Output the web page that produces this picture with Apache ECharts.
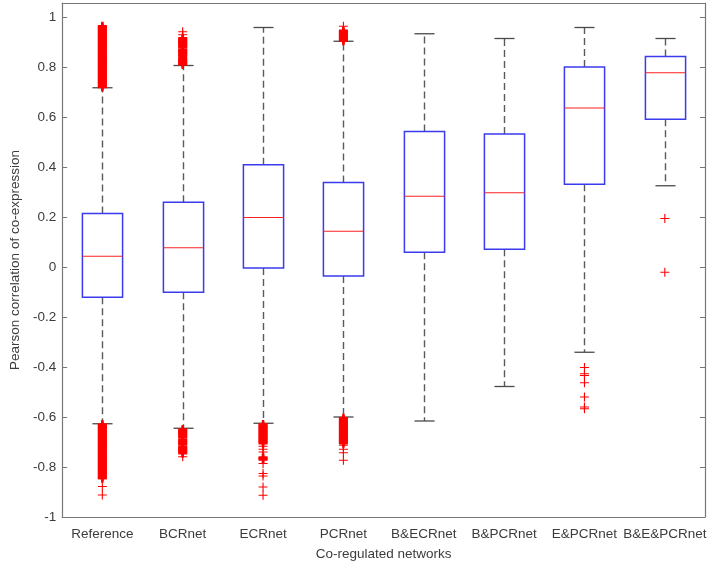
<!DOCTYPE html>
<html>
<head>
<meta charset="utf-8">
<script src="https://cdn.jsdelivr.net/npm/echarts@6/dist/echarts.min.js"></script>
<style>
html,body{margin:0;padding:0;background:#fff;}
#chart{width:709px;height:566px;}
</style>
</head>
<body>
<div id="chart"></div>
<script>
const categories = ['Reference','BCRnet','ECRnet','PCRnet','B&ECRnet','B&PCRnet','E&PCRnet','B&E&PCRnet'];
const lowerWhisker = [-0.627, -0.645, -0.625, -0.600, -0.616, -0.478, -0.341, 0.325];
const q1           = [-0.121, -0.101, -0.004, -0.036, 0.059, 0.071, 0.331, 0.591];
const median       = [0.043, 0.077, 0.198, 0.143, 0.283, 0.297, 0.636, 0.777];
const q3           = [0.214, 0.259, 0.409, 0.338, 0.542, 0.532, 0.800, 0.842];
const upperWhisker = [0.717, 0.806, 0.958, 0.903, 0.933, 0.914, 0.958, 0.914];
const yTicks = [-1, -0.8, -0.6, -0.4, -0.2, 0, 0.2, 0.4, 0.6, 0.8, 1];

const outliersReference = [
  0.72,0.725,0.73,0.735,0.74,0.745,0.75,0.755,0.76,0.765,0.77,0.775,0.78,0.785,0.79,0.795,
  0.80,0.805,0.81,0.815,0.82,0.825,0.83,0.835,0.84,0.845,0.85,0.855,0.86,0.865,0.87,0.875,
  0.88,0.885,0.89,0.895,0.90,0.905,0.91,0.915,0.92,0.925,0.93,0.935,0.94,0.945,0.95,0.955,0.96,0.963,
  -0.63,-0.635,-0.64,-0.645,-0.65,-0.655,-0.66,-0.665,-0.67,-0.675,-0.68,-0.685,-0.69,-0.695,
  -0.70,-0.705,-0.71,-0.715,-0.72,-0.725,-0.73,-0.735,-0.74,-0.745,-0.75,-0.755,-0.76,-0.765,
  -0.77,-0.775,-0.78,-0.785,-0.79,-0.795,-0.80,-0.805,-0.81,-0.815,-0.82,-0.825,-0.83,-0.835,-0.84,-0.845,
  -0.878,-0.912
];
const outliersBCRnet = [
  0.81,0.815,0.82,0.825,0.83,0.835,0.845,0.85,0.855,0.86,0.865,0.87,0.88,0.885,0.89,0.895,
  0.90,0.905,0.91,0.915,0.929,0.941,
  -0.65,-0.655,-0.66,-0.665,-0.67,-0.675,-0.68,-0.69,-0.695,-0.70,-0.705,-0.71,-0.72,-0.725,
  -0.73,-0.735,-0.74,-0.745,-0.759
];
const outliersECRnet = [
  -0.63,-0.635,-0.64,-0.645,-0.65,-0.655,-0.66,-0.665,-0.67,-0.675,-0.68,-0.685,-0.69,-0.695,-0.70,-0.705,
  -0.717,-0.729,-0.74,-0.762,-0.766,-0.77,-0.786,-0.826,-0.836,-0.88,-0.913
];
const outliersPCRnet = [
  0.905,0.91,0.915,0.92,0.925,0.93,0.935,0.94,0.945,0.963,
  -0.605,-0.61,-0.615,-0.62,-0.625,-0.63,-0.635,-0.64,-0.645,-0.65,-0.655,-0.66,-0.665,-0.67,
  -0.675,-0.68,-0.685,-0.69,-0.695,-0.70,-0.705,-0.713,-0.729,-0.743,-0.773
];
const outliersBECRnet = [];
const outliersBPCRnet = [];
const outliersEPCRnet = [-0.402,-0.427,-0.434,-0.463,-0.52,-0.56,-0.567];
const outliersBEPCRnet = [0.194,-0.021];

const allOutliers = [outliersReference, outliersBCRnet, outliersECRnet, outliersPCRnet,
  outliersBECRnet, outliersBPCRnet, outliersEPCRnet, outliersBEPCRnet];

const boxData = categories.map((c, i) => [i, lowerWhisker[i], q1[i], median[i], q3[i], upperWhisker[i]]);
// outliers: markers that sit inside a dense run are drawn with a heavier stroke so the run reads as solid
const outlierData = [];
allOutliers.forEach((arr, i) => arr.forEach((v, k) => {
  const prev = k > 0 ? Math.abs(arr[k - 1] - v) : 1;
  const next = k < arr.length - 1 ? Math.abs(arr[k + 1] - v) : 1;
  const dense = Math.min(prev, next) <= 0.0055;
  outlierData.push({value: [i, v], itemStyle: {borderWidth: dense ? 2.4 : 1.1}});
}));

const axisColor = '#777777';
const textColor = '#3c3c3c';
const fontFamily = 'Liberation Sans, Arial, sans-serif';

function renderBox(params, api) {
  const i = api.value(0);
  const lo = api.coord([i, api.value(1)]);
  const b1 = api.coord([i, api.value(2)]);
  const md = api.coord([i, api.value(3)]);
  const b3 = api.coord([i, api.value(4)]);
  const hi = api.coord([i, api.value(5)]);
  const bw = api.size([1, 0])[0];
  const half = bw * 0.25;
  const capHalf = bw * 0.125;
  const x = Math.round(lo[0]) + 0.5;
  const whiskerStyle = {stroke: '#5a5a5a', lineWidth: 1.4, lineDash: [7, 4], fill: null};
  const capStyle = {stroke: '#4a4a4a', lineWidth: 1.3, fill: null};
  return {
    type: 'group',
    children: [
      {type: 'line', shape: {x1: x, y1: b3[1], x2: x, y2: hi[1]}, style: whiskerStyle},
      {type: 'line', shape: {x1: x, y1: b1[1], x2: x, y2: lo[1]}, style: whiskerStyle},
      {type: 'line', shape: {x1: x - capHalf, y1: hi[1], x2: x + capHalf, y2: hi[1]}, style: capStyle},
      {type: 'line', shape: {x1: x - capHalf, y1: lo[1], x2: x + capHalf, y2: lo[1]}, style: capStyle},
      {type: 'rect', shape: {x: x - half, y: b3[1], width: half * 2, height: b1[1] - b3[1]},
        style: {stroke: '#3a3aee', lineWidth: 1.5, fill: '#ffffff'}},
      {type: 'line', shape: {x1: x - half, y1: md[1], x2: x + half, y2: md[1]},
        style: {stroke: '#ff2020', lineWidth: 1.1}}
    ]
  };
}

const chart = echarts.init(document.getElementById('chart'), null, {renderer: 'canvas'});
chart.setOption({
  animation: false,
  backgroundColor: '#ffffff',
  grid: {left: 49.5, right: 4, top: 3, bottom: 47.3, containLabel: false},
  xAxis: [
    {
      type: 'category', data: categories, position: 'bottom', boundaryGap: true,
      axisLine: {onZero: false, lineStyle: {color: axisColor, width: 1.2}},
      axisTick: {inside: true, length: 5, alignWithLabel: true, lineStyle: {color: axisColor}},
      axisLabel: {color: textColor, fontSize: 13.5, fontFamily: fontFamily, margin: 10, interval: 0},
      splitLine: {show: false},
      name: 'Co-regulated networks', nameLocation: 'middle', nameGap: 30,
      nameTextStyle: {color: textColor, fontSize: 13.5, fontFamily: fontFamily}
    },
    {
      type: 'category', data: categories, position: 'top', boundaryGap: true,
      axisLine: {onZero: false, lineStyle: {color: axisColor, width: 1.2}},
      axisTick: {inside: true, length: 5, alignWithLabel: true, lineStyle: {color: axisColor}},
      axisLabel: {show: false}, splitLine: {show: false}
    }
  ],
  yAxis: [
    {
      type: 'value', min: -1, max: 1.056, interval: 0.2, position: 'left',
      axisLine: {show: true, onZero: false, lineStyle: {color: axisColor, width: 1.2}},
      axisTick: {show: true, inside: true, length: 5, lineStyle: {color: axisColor}},
      axisLabel: {color: textColor, fontSize: 13.5, fontFamily: fontFamily, margin: 6, showMaxLabel: false,
        formatter: v => {
          const r = Math.round(v * 10) / 10;
          return yTicks.indexOf(r) >= 0 && Math.abs(v - r) < 1e-6 ? String(r) : '';
        }},
      splitLine: {show: false},
      name: 'Pearson correlation of co-expression', nameLocation: 'middle', nameGap: 34,
      nameTextStyle: {color: textColor, fontSize: 13.5, fontFamily: fontFamily}
    },
    {
      type: 'value', min: -1, max: 1.056, interval: 0.2, position: 'right',
      axisLine: {show: true, onZero: false, lineStyle: {color: axisColor, width: 1.2}},
      axisTick: {show: true, inside: true, length: 5, lineStyle: {color: axisColor}},
      axisLabel: {show: false}, splitLine: {show: false}
    }
  ],
  series: [
    {
      type: 'custom', xAxisIndex: 0, yAxisIndex: 0, data: boxData,
      encode: {x: 0, y: [1, 2, 3, 4, 5]}, renderItem: renderBox, clip: false, silent: true, z: 2
    },
    {
      type: 'scatter', xAxisIndex: 0, yAxisIndex: 0, data: outlierData,
      symbol: 'path://M0,5L10,5M5,0L5,10', symbolSize: 9,
      itemStyle: {color: 'rgba(0,0,0,0)', borderColor: '#ff0000', borderWidth: 1.1, opacity: 1},
      silent: true, z: 3
    }
  ]
});
</script>
</body>
</html>
